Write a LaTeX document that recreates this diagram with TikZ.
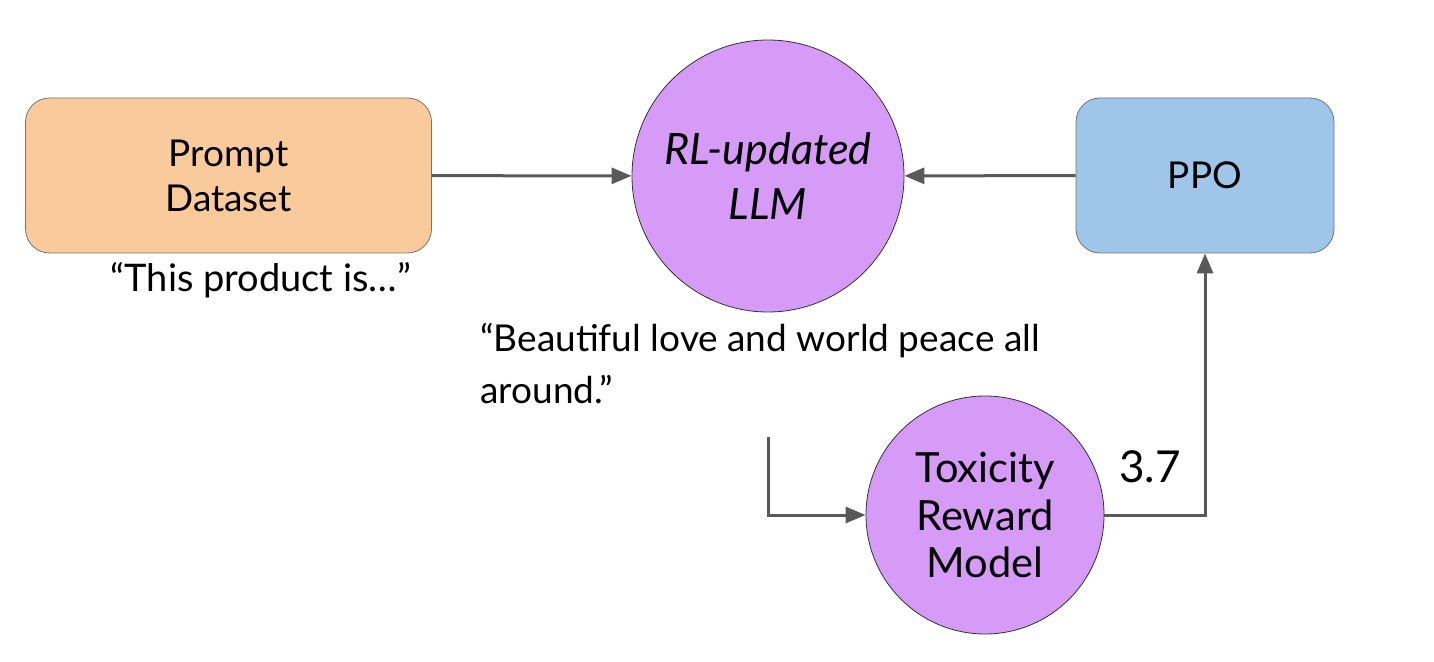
\documentclass[tikz,border=0pt]{standalone}
\usepackage{fontspec}
\setmainfont{Lato}
\usetikzlibrary{arrows.meta}
\definecolor{promptorange}{HTML}{F9CB9C}
\definecolor{ppoblue}{HTML}{9FC5E8}
\definecolor{llmpurple}{HTML}{D69BF7}
\definecolor{linegray}{HTML}{595959}
\tikzset{
    box/.style={draw=black!55, rounded corners=12pt, minimum width=203pt, minimum height=77.5pt, align=center, font=\fontsize{18.5}{22.5}\selectfont},
    model/.style={circle, draw=black!80, fill=llmpurple, align=center, font=\fontsize{20.8}{23.8}\selectfont},
    flow/.style={draw=linegray, line width=1.5pt, -{Triangle[length=10pt,width=8pt]}},
    txt/.style={font=\fontsize{19}{26}\selectfont}
}
\begin{document}
\begin{tikzpicture}[x=0.5pt,y=-0.5pt]
        \useasboundingbox (0,0) rectangle (1434,662);
        \node[box, fill=promptorange] (prompt) at (228.5,175.5) {Prompt\\Dataset};
        \node[box, fill=ppoblue, minimum width=129pt] (ppo) at (1205,175.5) {PPO};
        \node[model, minimum size=136pt, font=\fontsize{21.6}{27.5}\selectfont\itshape] (llm) at (768,176) {RL-updated\\LLM};
        \node[model, minimum size=119pt] (tox) at (985,515) {Toxicity\\Reward\\Model};
        \node[txt] (ask) at (261,280) {“This product is…”};
        \node[txt, font=\fontsize{18.5}{26}\selectfont, anchor=north west, align=left, inner sep=0pt] (answer) at (480,323) {“Beautiful love and world peace all\\around.”};
        \node[txt, font=\fontsize{22}{26}\selectfont] (score) at (1150,467) {3.7};
        \coordinate (feed) at (768,437);
        \draw[flow] (prompt) -- (llm);
        \draw[flow] (ppo) -- (llm);
        \draw[flow] (feed) |- (tox);
        \draw[flow] (tox) -| (ppo);
    \end{tikzpicture}
\end{document}
